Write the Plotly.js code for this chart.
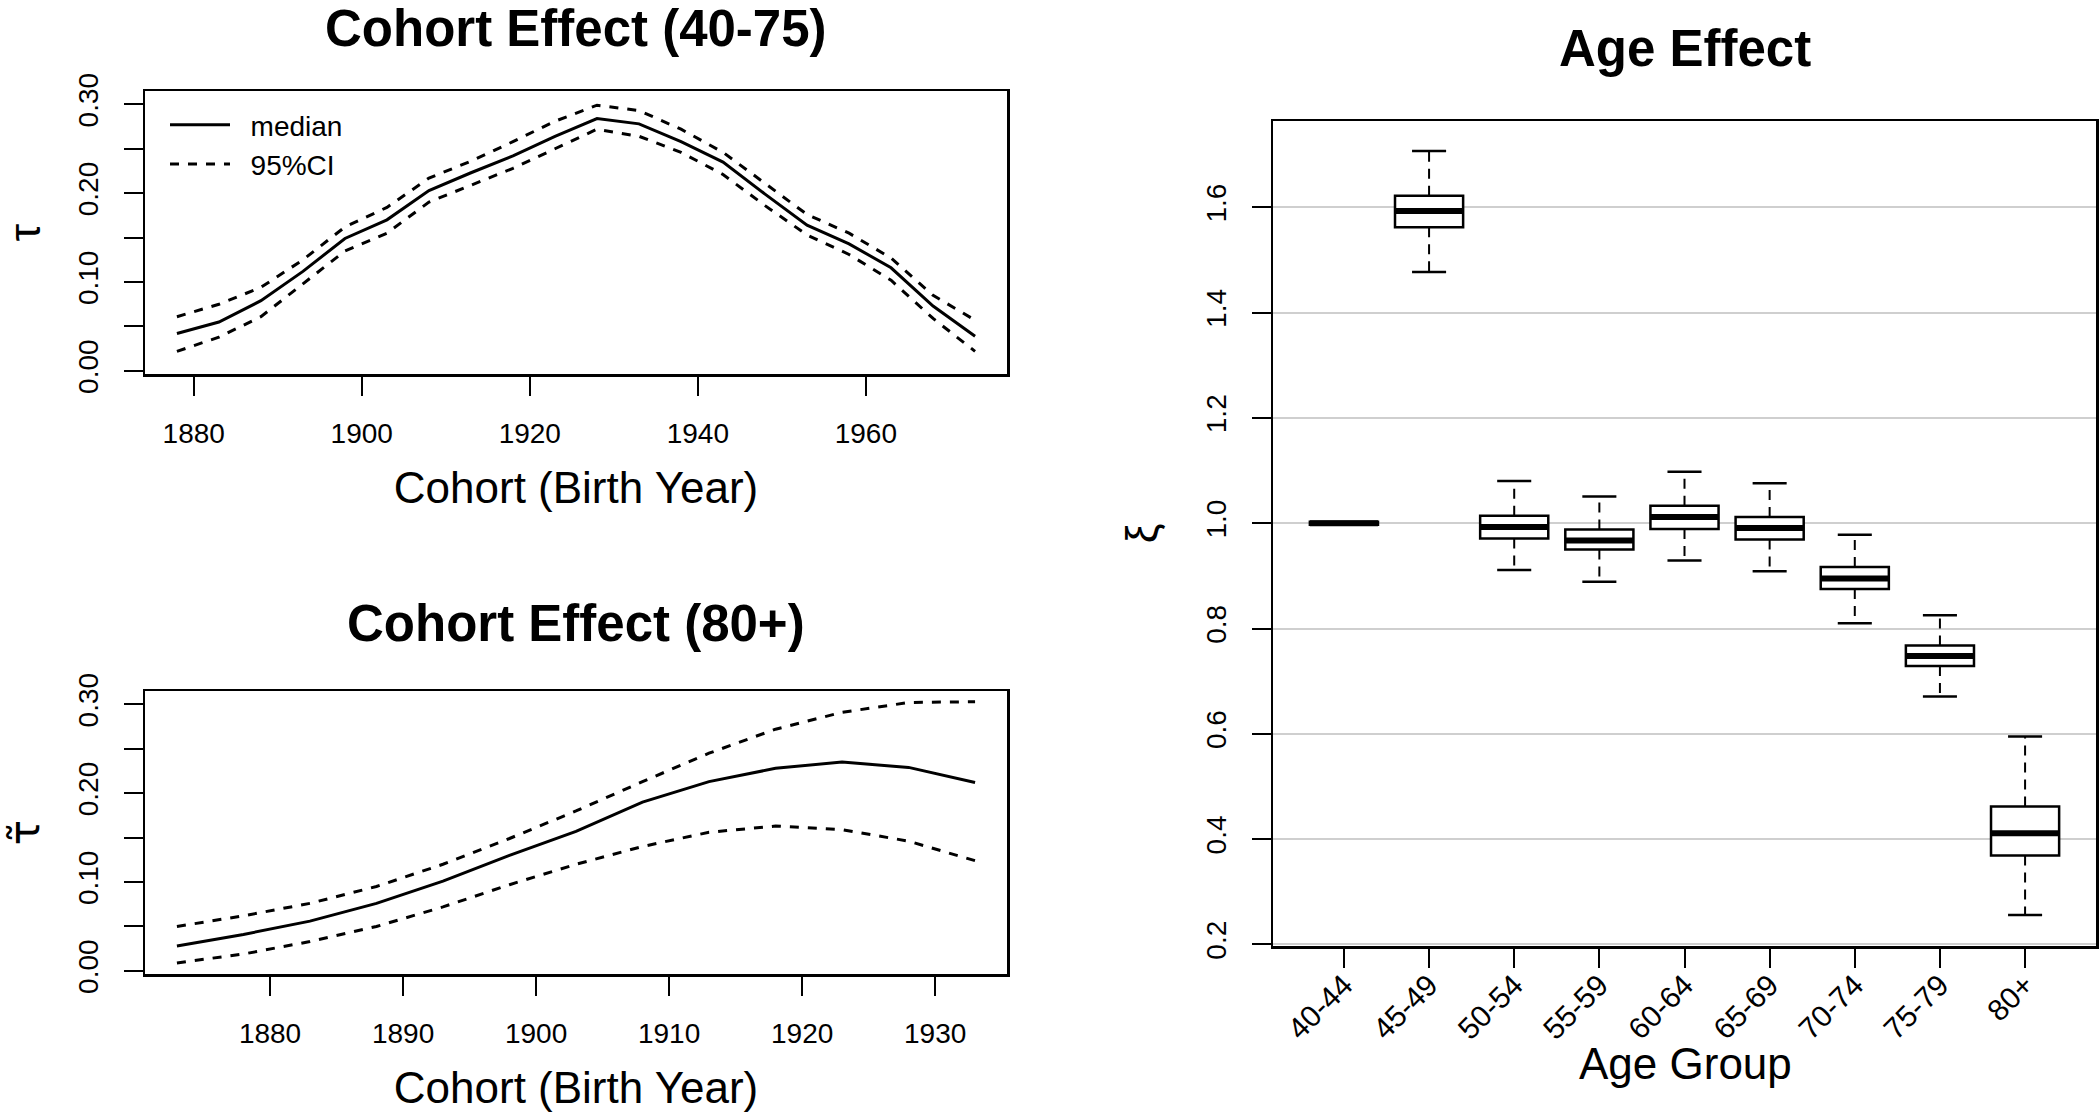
<!DOCTYPE html>
<html>
<head>
<meta charset="utf-8">
<script src="https://cdn.plot.ly/plotly-3.0.1.min.js"></script>
<style>html,body{margin:0;padding:0;background:#fff;}#chart{width:2100px;height:1117px;}</style>
</head>
<body>
<div id="chart"></div>
<script>
// ---- Cohort effect (40-75) ----
var cohortYears1 = [1878,1883,1888,1893,1898,1903,1908,1913,1918,1923,1928,1933,1938,1943,1948,1953,1958,1963,1968,1973];
var tauMedian = [0.042,0.055,0.079,0.112,0.149,0.170,0.203,0.223,0.242,0.264,0.284,0.278,0.258,0.235,0.199,0.164,0.143,0.116,0.073,0.039];
var tauUpper  = [0.061,0.075,0.094,0.125,0.162,0.184,0.217,0.236,0.258,0.281,0.299,0.293,0.272,0.246,0.211,0.176,0.155,0.127,0.085,0.057];
var tauLower  = [0.022,0.038,0.061,0.098,0.135,0.155,0.190,0.209,0.228,0.250,0.272,0.264,0.246,0.221,0.186,0.153,0.131,0.102,0.059,0.022];

// ---- Cohort effect (80+) ----
var cohortYears2 = [1873,1878,1883,1888,1893,1898,1903,1908,1913,1918,1923,1928,1933];
var tauTMedian = [0.028,0.041,0.056,0.076,0.101,0.130,0.157,0.190,0.213,0.228,0.235,0.229,0.212];
var tauTUpper  = [0.050,0.062,0.076,0.095,0.120,0.149,0.180,0.213,0.245,0.272,0.291,0.302,0.303];
var tauTLower  = [0.009,0.019,0.033,0.050,0.072,0.097,0.120,0.140,0.156,0.163,0.159,0.146,0.124];

// ---- Age effect (box summaries) ----
var ageGroups = ["40-44","45-49","50-54","55-59","60-64","65-69","70-74","75-79","80+"];
var xiMin    = [0.997,1.477,0.911,0.889,0.929,0.909,0.810,0.671,0.256];
var xiQ1     = [0.997,1.562,0.971,0.950,0.989,0.969,0.875,0.729,0.369];
var xiMedian = [1.000,1.593,0.993,0.967,1.012,0.991,0.895,0.748,0.411];
var xiQ3     = [1.003,1.622,1.014,0.988,1.033,1.012,0.917,0.768,0.462];
var xiMax    = [1.003,1.707,1.080,1.051,1.098,1.076,0.978,0.825,0.595];

var FONT = "Liberation Sans, Arial, Helvetica, sans-serif";
var W = 2100, H = 1117;
function px2x(p){ return p / W; }
function px2y(p){ return 1 - p / H; }
var NB = "\u00a0\u00a0";

var traces = [];
traces.push({x: cohortYears1, y: tauMedian, type: 'scatter', mode: 'lines', name: NB + 'median',
  line: {color: '#000', width: 3}, xaxis: 'x', yaxis: 'y', showlegend: true});
traces.push({x: cohortYears1, y: tauUpper, type: 'scatter', mode: 'lines', name: NB + '95%CI', legendgroup: 'ci',
  line: {color: '#000', width: 3, dash: '9px,9px'}, xaxis: 'x', yaxis: 'y', showlegend: true});
traces.push({x: cohortYears1, y: tauLower, type: 'scatter', mode: 'lines', name: '95%CI', legendgroup: 'ci',
  line: {color: '#000', width: 3, dash: '9px,9px'}, xaxis: 'x', yaxis: 'y', showlegend: false});

traces.push({x: cohortYears2, y: tauTMedian, type: 'scatter', mode: 'lines', name: 'median',
  line: {color: '#000', width: 3}, xaxis: 'x2', yaxis: 'y2', showlegend: false});
traces.push({x: cohortYears2, y: tauTUpper, type: 'scatter', mode: 'lines', name: '95%CI',
  line: {color: '#000', width: 3, dash: '9px,9px'}, xaxis: 'x2', yaxis: 'y2', showlegend: false});
traces.push({x: cohortYears2, y: tauTLower, type: 'scatter', mode: 'lines', name: '95%CI',
  line: {color: '#000', width: 3, dash: '9px,9px'}, xaxis: 'x2', yaxis: 'y2', showlegend: false});

// boxes
var idx = ageGroups.map(function(_, i){ return i; });
traces.push({type: 'box', x: idx, q1: xiQ1, median: xiMedian, q3: xiQ3,
  lowerfence: xiQ1, upperfence: xiQ3, width: 0.8, whiskerwidth: 0,
  fillcolor: '#fff', line: {color: '#000', width: 2.5}, boxpoints: false,
  xaxis: 'x3', yaxis: 'y3', showlegend: false, name: 'xi'});

// whiskers (dashed)
var wx = [], wy = [];
idx.forEach(function(i){
  wx.push(i, i, null, i, i, null);
  wy.push(xiQ3[i], xiMax[i], null, xiQ1[i], xiMin[i], null);
});
traces.push({x: wx, y: wy, type: 'scatter', mode: 'lines', line: {color: '#000', width: 2, dash: '10px,7px'},
  xaxis: 'x3', yaxis: 'y3', showlegend: false, connectgaps: false});
// caps
var cx = [], cy = [];
idx.forEach(function(i){
  if (xiMax[i] > xiQ3[i]) { cx.push(i - 0.2, i + 0.2, null); cy.push(xiMax[i], xiMax[i], null); }
  if (xiMin[i] < xiQ1[i]) { cx.push(i - 0.2, i + 0.2, null); cy.push(xiMin[i], xiMin[i], null); }
});
traces.push({x: cx, y: cy, type: 'scatter', mode: 'lines', line: {color: '#000', width: 2.5},
  xaxis: 'x3', yaxis: 'y3', showlegend: false});
// thick medians
var mx = [], my = [];
idx.forEach(function(i){ mx.push(i - 0.4, i + 0.4, null); my.push(xiMedian[i], xiMedian[i], null); });
traces.push({x: mx, y: my, type: 'scatter', mode: 'lines', line: {color: '#000', width: 6},
  xaxis: 'x3', yaxis: 'y3', showlegend: false});

var tickFont = {family: FONT, size: 28, color: '#000'};
var axTitleFont = {family: FONT, size: 44, color: '#000'};
function baseAxis(extra){
  var a = {showline: true, mirror: true, linecolor: '#000', linewidth: 2.5, ticks: 'outside', ticklen: 19,
    tickwidth: 2, tickcolor: '#000', showgrid: false, zeroline: false, tickfont: tickFont, fixedrange: true,
    ticklabelstandoff: 14};
  for (var k in extra) a[k] = extra[k];
  return a;
}
var tauTicks = [0, 0.05, 0.10, 0.15, 0.20, 0.25, 0.30];
var tauTickText = ["0.00", "", "0.10", "", "0.20", "", "0.30"];

var layout = {
  width: W, height: H, paper_bgcolor: '#fff', plot_bgcolor: '#fff',
  margin: {l: 0, r: 0, t: 0, b: 0}, hovermode: false,
  font: {family: FONT, color: '#000'},
  xaxis: baseAxis({domain: [px2x(145), px2x(1007)], range: [1874.2, 1976.8], tickvals: [1880,1900,1920,1940,1960],
    anchor: 'y', title: {text: 'Cohort (Birth Year)', font: axTitleFont, standoff: 24}}),
  yaxis: baseAxis({domain: [px2y(374), px2y(91)], range: [-0.0035, 0.315], tickvals: tauTicks, ticktext: tauTickText,
    tickangle: -90, anchor: 'x', ticklabelstandoff: 14, title: {text: 'τ', font: axTitleFont, standoff: 30}}),
  xaxis2: baseAxis({domain: [px2x(145), px2x(1007)], range: [1870.6, 1935.4], tickvals: [1880,1890,1900,1910,1920,1930],
    anchor: 'y2', title: {text: 'Cohort (Birth Year)', font: axTitleFont, standoff: 24}}),
  yaxis2: baseAxis({domain: [px2y(974), px2y(691)], range: [-0.0035, 0.315], tickvals: tauTicks, ticktext: tauTickText,
    tickangle: -90, anchor: 'x2', ticklabelstandoff: 14, title: {text: 'τ\u0303', font: {family: 'DejaVu Sans, Noto Sans', size: 42, color: '#000'}, standoff: 30}}),
  xaxis3: baseAxis({domain: [px2x(1273), px2x(2096)], range: [-0.833, 8.833], tickvals: idx, ticktext: ageGroups,
    tickangle: -45, anchor: 'y3', tickfont: {family: FONT, size: 30, color: '#000'}, ticklabelstandoff: -12}),
  yaxis3: baseAxis({domain: [px2y(946), px2y(121)], range: [0.197, 1.764], tickvals: [0.2,0.4,0.6,0.8,1.0,1.2,1.4,1.6],
    ticktext: ["0.2","0.4","0.6","0.8","1.0","1.2","1.4","1.6"], tickangle: -90, anchor: 'x3', ticklabelstandoff: 14,
    showgrid: true, gridcolor: '#cfcfcf', gridwidth: 2,
    title: {text: 'ξ', font: axTitleFont, standoff: 30}}),
  showlegend: true,
  legend: {x: px2x(165), y: px2y(100), xanchor: 'left', yanchor: 'top', bgcolor: 'rgba(0,0,0,0)',
    font: {family: FONT, size: 28, color: '#000'}, tracegroupgap: 0, itemwidth: 60},
  annotations: [
    {text: '<b>Cohort Effect (40-75)</b>', xref: 'paper', yref: 'paper', x: px2x(576), y: px2y(28),
      xanchor: 'center', yanchor: 'middle', showarrow: false, font: {family: FONT, size: 51, color: '#000'}},
    {text: '<b>Cohort Effect (80+)</b>', xref: 'paper', yref: 'paper', x: px2x(576), y: px2y(623),
      xanchor: 'center', yanchor: 'middle', showarrow: false, font: {family: FONT, size: 51, color: '#000'}},
    {text: '<b>Age Effect</b>', xref: 'paper', yref: 'paper', x: px2x(1685), y: px2y(48),
      xanchor: 'center', yanchor: 'middle', showarrow: false, font: {family: FONT, size: 51, color: '#000'}},
    {text: 'Age Group', xref: 'paper', yref: 'paper', x: px2x(1685), y: px2y(1063),
      xanchor: 'center', yanchor: 'middle', showarrow: false, font: axTitleFont}
  ]
};

Plotly.newPlot('chart', traces, layout, {staticPlot: true, displayModeBar: false});
</script>
</body>
</html>
